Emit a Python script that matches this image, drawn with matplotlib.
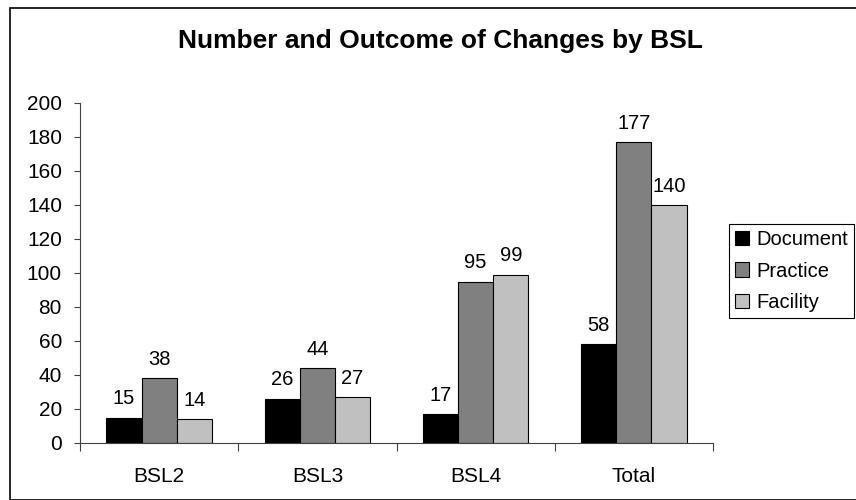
import matplotlib
matplotlib.use("Agg")
import matplotlib.pyplot as plt
import numpy as np
from matplotlib.patches import Rectangle

plt.rcParams['font.family'] = ['Liberation Sans', 'DejaVu Sans']

categories = ['BSL2', 'BSL3', 'BSL4', 'Total']
series_names = ['Document', 'Practice', 'Facility']
document = [15, 26, 17, 58]
practice = [38, 44, 95, 177]
facility = [14, 27, 99, 140]
colors = ['#000000', '#808080', '#c0c0c0']

W, H = 856, 500
fig = plt.figure(figsize=(W / 100, H / 100), dpi=100)
# outer chart border (runs off the right and bottom edges like the source)
fig.patches.append(Rectangle((10 / W, 0), 1.0, 1 - 8 / H, transform=fig.transFigure,
                             fill=False, edgecolor='black', lw=1.2))

ax = fig.add_axes([80 / W, (H - 443) / H, (713 - 80) / W, (443 - 103) / H])

x = np.arange(len(categories))
bw = 0.222
for i, (vals, name, c) in enumerate(zip([document, practice, facility], series_names, colors)):
    pos = x + (i - 1) * bw
    ax.bar(pos, vals, width=bw, color=c, edgecolor='black', linewidth=0.8, label=name)
    for p, v in zip(pos, vals):
        ax.text(p, v + 5.5, str(v), ha='center', va='bottom', fontsize=14.5)

ax.set_xlim(-0.5, len(categories) - 0.5)
ax.set_ylim(0, 200)
ax.set_yticks(range(0, 201, 20))
ax.set_xticks(x)
ax.set_xticklabels(categories, fontsize=15)
ax.tick_params(axis='y', labelsize=15, direction='out', length=4, width=0.8,
               colors='#404040', labelcolor='black', pad=9)
ax.tick_params(axis='x', length=0, pad=17)
# category separator ticks
ax.set_xticks(np.arange(-0.5, len(categories), 1), minor=True)
ax.tick_params(axis='x', which='minor', direction='out', length=6, width=0.8, colors='#404040')
for s in ['top', 'right']:
    ax.spines[s].set_visible(False)
ax.spines['left'].set_color('#404040')
ax.spines['bottom'].set_color('#404040')
ax.patch.set_alpha(0)

fig.text(440 / W, 1 - 41 / H, 'Number and Outcome of Changes by BSL',
         ha='center', va='center', fontsize=19, fontweight='bold')

leg = fig.legend(loc='upper left', bbox_to_anchor=(729 / W, 1 - 224 / H), fontsize=14.5,
                 frameon=True, fancybox=False, edgecolor='black', framealpha=1,
                 handlelength=0.7, handleheight=0.7, handletextpad=0.35,
                 borderpad=0.3, labelspacing=0.62, borderaxespad=0)
leg.get_frame().set_linewidth(0.8)

fig.savefig('out.png', dpi=100)
